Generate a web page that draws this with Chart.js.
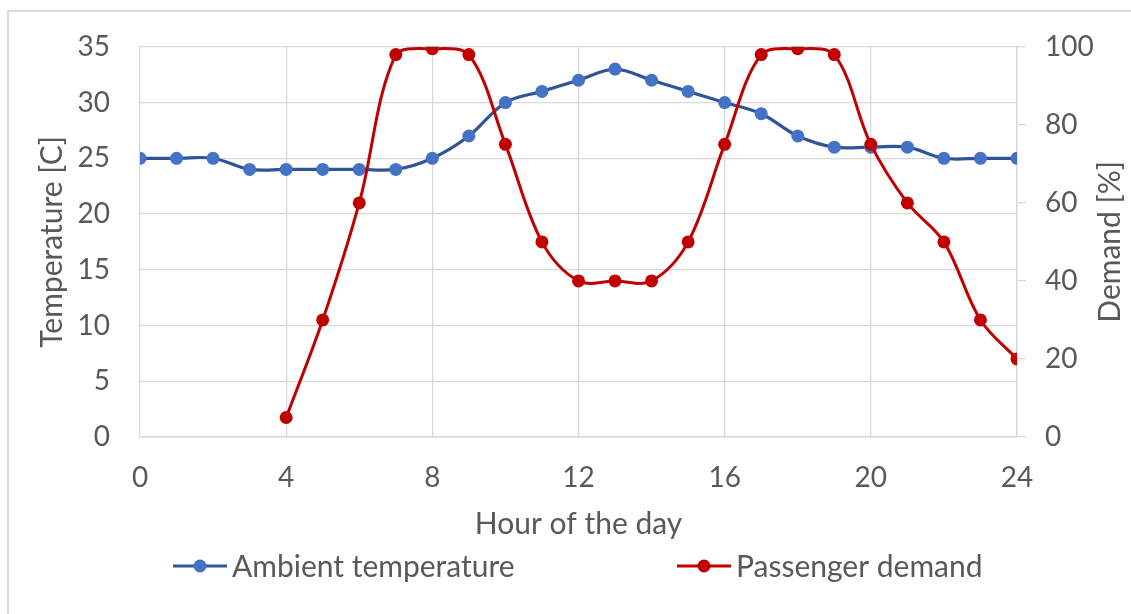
<!DOCTYPE html>
<html>
<head>
<meta charset="utf-8">
<script src="https://cdn.jsdelivr.net/npm/chart.js@4"></script>
<style>
  html, body { margin: 0; padding: 0; background: #ffffff; }
  #wrap { position: relative; width: 1131px; height: 614px; }
</style>
</head>
<body>
<div id="wrap"><canvas id="c" width="1131" height="614"></canvas></div>
<script>
// ---- data ----
const hours = [0,1,2,3,4,5,6,7,8,9,10,11,12,13,14,15,16,17,18,19,20,21,22,23,24];
const temperature = [25,25,25,24,24,24,24,24,25,27,30,31,32,33,32,31,30,29,27,26,26,26,25,25,25];
const demandHours = [4,5,6,7,8,9,10,11,12,13,14,15,16,17,18,19,20,21,22,23,24];
const demand = [5,30,60,98,99.5,98,75,50,40,40,40,50,75,98,99.5,98,75,60,50,30,20];
const xTicks = [0,4,8,12,16,20,24];
const tempTicks = [0,5,10,15,20,25,30,35];
const demandTicks = [0,20,40,60,80,100];
const seriesNames = ['Ambient temperature', 'Passenger demand'];
const axisTitles = { x: 'Hour of the day', left: 'Temperature [C]', right: 'Demand [%]' };

const FONT = 'Lato, "Open Sans", sans-serif';
const TXT = '#595959';
const GRID = '#d9d9d9';
const FS = 28;   // tick labels
const FT = 30;   // titles and legend

const tempPts = hours.map((h, i) => ({ x: h, y: temperature[i] }));
const demPts = demandHours.map((h, i) => ({ x: h, y: demand[i] }));

const decor = {
  id: 'decor',
  afterDraw(chart) {
    const ctx = chart.ctx;
    ctx.save();
    // outer border (left & top visible)
    ctx.strokeStyle = '#d0d0d0';
    ctx.lineWidth = 1.5;
    ctx.beginPath();
    ctx.moveTo(8, 620); ctx.lineTo(8, 11); ctx.lineTo(1140, 11);
    ctx.stroke();

    // right axis title, rotated -90 (reads bottom to top)
    ctx.fillStyle = TXT;
    ctx.font = FT + 'px ' + FONT;
    ctx.textAlign = 'center';
    ctx.textBaseline = 'middle';
    const ca = chart.chartArea;
    ctx.save();
    ctx.translate(1110, (ca.top + ca.bottom) / 2);
    ctx.rotate(-Math.PI / 2);
    ctx.fillText(axisTitles.right, 0, 0);
    ctx.restore();

    // legend
    const items = [
      { x: 173, line: '#2F5597', pt: '#4472C4', lw: 3.2, label: chart.data.datasets[0].label },
      { x: 677, line: '#C00000', pt: '#C00000', lw: 3, label: chart.data.datasets[1].label }
    ];
    const ly = 566;
    items.forEach(it => {
      ctx.strokeStyle = it.line;
      ctx.lineWidth = it.lw;
      ctx.beginPath();
      ctx.moveTo(it.x, ly); ctx.lineTo(it.x + 54, ly);
      ctx.stroke();
      ctx.fillStyle = it.pt;
      ctx.beginPath();
      ctx.arc(it.x + 27, ly, 6.5, 0, Math.PI * 2);
      ctx.fill();
      ctx.fillStyle = TXT;
      ctx.textAlign = 'left';
      ctx.textBaseline = 'middle';
      ctx.font = FT + 'px ' + FONT;
      ctx.fillText(it.label, it.x + 59, ly + 1);
    });
    ctx.restore();
  }
};

new Chart(document.getElementById('c'), {
  type: 'line',
  data: {
    datasets: [
      {
        label: seriesNames[0],
        data: tempPts,
        yAxisID: 'yT',
        borderColor: '#2F5597',
        backgroundColor: '#4472C4',
        pointBackgroundColor: '#4472C4',
        pointBorderColor: '#4472C4',
        borderWidth: 3.2,
        pointRadius: 6.5,
        pointBorderWidth: 0,
        tension: 0.35,
        order: 2
      },
      {
        label: seriesNames[1],
        data: demPts,
        yAxisID: 'yD',
        borderColor: '#C00000',
        backgroundColor: '#C00000',
        pointBackgroundColor: '#C00000',
        pointBorderColor: '#C00000',
        borderWidth: 3,
        pointRadius: 6.5,
        pointBorderWidth: 0,
        tension: 0.35,
        order: 1
      }
    ]
  },
  options: {
    responsive: false,
    animation: false,
    devicePixelRatio: 1,
    layout: { padding: { left: 0, right: 0, top: 45, bottom: 60 } },
    plugins: { legend: { display: false }, tooltip: { enabled: false } },
    scales: {
      x: {
        type: 'linear',
        min: 0, max: 24,
        afterBuildTicks(s) { s.ticks = xTicks.map(v => ({ value: v })); },
        afterFit(s) { s.height = 614 - 437 - 60; },
        grid: { color: GRID, lineWidth: 1.3, drawTicks: false },
        border: { color: GRID, width: 1.5 },
        ticks: { color: TXT, font: { family: FONT, size: FS }, padding: 24, maxRotation: 0 },
        title: { display: true, text: axisTitles.x, color: TXT, font: { family: FONT, size: FT }, padding: { top: 0, bottom: 12 } }
      },
      yT: {
        type: 'linear',
        position: 'left',
        min: 0, max: 35,
        afterBuildTicks(s) { s.ticks = tempTicks.map(v => ({ value: v })); },
        afterFit(s) { s.width = 140; },
        grid: { color: GRID, lineWidth: 1.3, drawTicks: false },
        border: { display: false },
        ticks: { color: TXT, font: { family: FONT, size: FS }, padding: 30 },
        title: { display: true, text: axisTitles.left, color: TXT, font: { family: FONT, size: FT }, padding: { top: 34, bottom: 0 } }
      },
      yD: {
        type: 'linear',
        position: 'right',
        min: 0, max: 100,
        afterBuildTicks(s) { s.ticks = demandTicks.map(v => ({ value: v })); },
        afterFit(s) { s.width = 1131 - 1017; },
        grid: { drawOnChartArea: false, color: GRID, lineWidth: 1.3, drawTicks: true, tickLength: 9 },
        border: { color: GRID, width: 1.5 },
        ticks: { color: TXT, font: { family: FONT, size: FS }, padding: 19 },
        title: { display: false }
      }
    }
  },
  plugins: [decor]
});
</script>
</body>
</html>
